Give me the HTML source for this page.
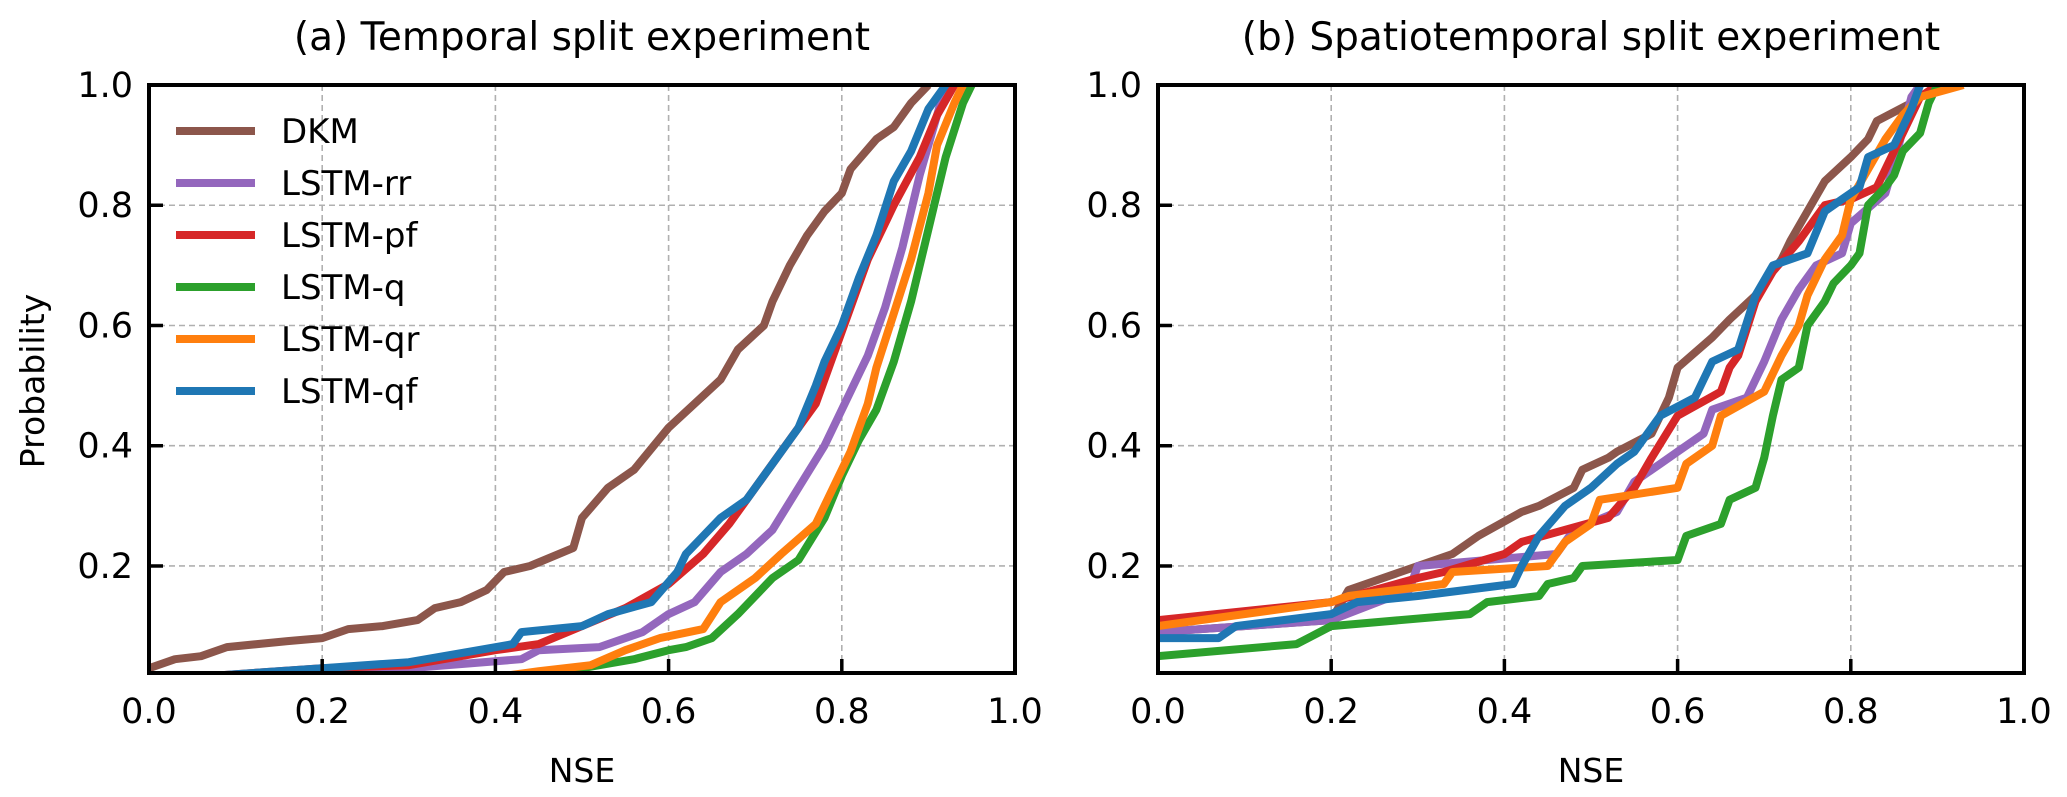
<!DOCTYPE html>
<html><head><meta charset="utf-8">
<style>
html,body{margin:0;padding:0;background:#fff;}
svg{display:block;font-family:"DejaVu Sans","Liberation Sans",sans-serif;}
</style></head>
<body>
<svg id="chart" width="2067" height="797" viewBox="0 0 2067 797" xmlns="http://www.w3.org/2000/svg">
<defs>
<clipPath id="clipA"><rect x="149" y="85" width="866" height="588"/></clipPath>
<clipPath id="clipB"><rect x="1158" y="85" width="866" height="588"/></clipPath>
</defs>
<g id="root"></g>
</svg>
<script>
const seriesNames = ["DKM","LSTM-rr","LSTM-pf","LSTM-q","LSTM-qr","LSTM-qf"];
const seriesColors = ["#8c564b","#9467bd","#d62728","#2ca02c","#ff7f0e","#1f77b4"];
const xTicks = [0.0,0.2,0.4,0.6,0.8,1.0];
const yTicks = [0.2,0.4,0.6,0.8,1.0];
const titles = ["(a) Temporal split experiment","(b) Spatiotemporal split experiment"];

// Panel A: [nse, prob] pairs
const aDKM = [[0,0.03],[0.03,0.045],[0.06,0.05],[0.09,0.065],[0.16,0.075],[0.2,0.08],[0.23,0.095],[0.27,0.1],[0.31,0.11],[0.33,0.13],[0.36,0.14],[0.39,0.16],[0.41,0.19],[0.44,0.2],[0.49,0.23],[0.5,0.28],[0.53,0.33],[0.56,0.36],[0.6,0.43],[0.63,0.47],[0.66,0.51],[0.68,0.56],[0.71,0.6],[0.72,0.64],[0.74,0.7],[0.76,0.75],[0.78,0.79],[0.8,0.82],[0.81,0.86],[0.84,0.91],[0.86,0.93],[0.88,0.97],[0.9,1.0]];
const aRR = [[0,0.015],[0.15,0.015],[0.3,0.03],[0.43,0.045],[0.45,0.06],[0.52,0.065],[0.57,0.09],[0.6,0.12],[0.63,0.14],[0.66,0.19],[0.69,0.22],[0.72,0.26],[0.75,0.33],[0.78,0.4],[0.81,0.49],[0.83,0.55],[0.85,0.63],[0.87,0.73],[0.89,0.85],[0.91,0.95],[0.92,1.0]];
const aPF = [[0,0.01],[0.1,0.02],[0.2,0.03],[0.3,0.035],[0.4,0.06],[0.45,0.07],[0.5,0.1],[0.55,0.13],[0.6,0.17],[0.64,0.22],[0.67,0.27],[0.7,0.33],[0.74,0.41],[0.77,0.47],[0.79,0.55],[0.81,0.63],[0.83,0.71],[0.86,0.8],[0.89,0.88],[0.91,0.95],[0.93,1.0]];
const aQ = [[0.38,0.0],[0.4,0.01],[0.5,0.03],[0.56,0.045],[0.6,0.06],[0.62,0.065],[0.65,0.08],[0.68,0.12],[0.72,0.18],[0.75,0.21],[0.78,0.28],[0.8,0.35],[0.82,0.41],[0.84,0.46],[0.86,0.54],[0.88,0.64],[0.9,0.76],[0.92,0.88],[0.94,0.97],[0.95,1.0]];
const aQR = [[0,0.01],[0.2,0.01],[0.4,0.015],[0.45,0.025],[0.51,0.035],[0.55,0.06],[0.59,0.08],[0.64,0.095],[0.66,0.14],[0.7,0.18],[0.73,0.22],[0.77,0.27],[0.79,0.33],[0.81,0.39],[0.83,0.47],[0.84,0.53],[0.86,0.62],[0.88,0.71],[0.9,0.82],[0.91,0.9],[0.93,0.97],[0.94,1.0]];
const aQF = [[0,0.01],[0.1,0.02],[0.2,0.03],[0.3,0.04],[0.38,0.06],[0.42,0.07],[0.43,0.09],[0.5,0.1],[0.53,0.12],[0.58,0.14],[0.61,0.19],[0.62,0.22],[0.66,0.28],[0.69,0.31],[0.72,0.37],[0.75,0.43],[0.77,0.5],[0.78,0.54],[0.8,0.6],[0.82,0.68],[0.84,0.75],[0.86,0.84],[0.88,0.89],[0.9,0.96],[0.92,1.0]];

// Panel B
const bDKM = [[0,0.09],[0.2,0.11],[0.22,0.16],[0.3,0.2],[0.34,0.22],[0.37,0.25],[0.42,0.29],[0.44,0.3],[0.48,0.33],[0.49,0.36],[0.52,0.38],[0.53,0.39],[0.57,0.42],[0.59,0.48],[0.6,0.53],[0.64,0.58],[0.66,0.61],[0.69,0.65],[0.7,0.67],[0.72,0.71],[0.73,0.74],[0.75,0.79],[0.77,0.84],[0.8,0.88],[0.82,0.91],[0.83,0.94],[0.87,0.97],[0.88,1.0]];
const bRR = [[0,0.09],[0.2,0.11],[0.29,0.16],[0.3,0.2],[0.46,0.22],[0.48,0.26],[0.53,0.29],[0.55,0.34],[0.58,0.37],[0.6,0.39],[0.63,0.42],[0.64,0.46],[0.68,0.48],[0.7,0.54],[0.72,0.61],[0.74,0.66],[0.76,0.7],[0.79,0.72],[0.8,0.77],[0.84,0.82],[0.85,0.87],[0.87,0.98],[0.88,1.0]];
const bPF = [[0,0.11],[0.2,0.14],[0.3,0.18],[0.33,0.19],[0.4,0.22],[0.42,0.24],[0.47,0.26],[0.52,0.28],[0.55,0.33],[0.57,0.38],[0.6,0.45],[0.65,0.49],[0.66,0.53],[0.67,0.55],[0.69,0.64],[0.71,0.69],[0.74,0.74],[0.77,0.8],[0.8,0.81],[0.83,0.83],[0.84,0.86],[0.86,0.92],[0.88,0.98],[0.9,1.0]];
const bQ = [[0,0.05],[0.16,0.07],[0.2,0.1],[0.36,0.12],[0.38,0.14],[0.44,0.15],[0.45,0.17],[0.48,0.18],[0.49,0.2],[0.6,0.21],[0.61,0.25],[0.65,0.27],[0.66,0.31],[0.69,0.33],[0.7,0.38],[0.71,0.45],[0.72,0.51],[0.74,0.53],[0.75,0.6],[0.77,0.64],[0.78,0.67],[0.8,0.7],[0.81,0.72],[0.82,0.8],[0.84,0.83],[0.85,0.85],[0.86,0.89],[0.88,0.92],[0.89,0.97],[0.9,1.0]];
const bQR = [[0,0.1],[0.2,0.14],[0.22,0.15],[0.33,0.17],[0.34,0.19],[0.45,0.2],[0.47,0.24],[0.5,0.27],[0.51,0.31],[0.6,0.33],[0.61,0.37],[0.64,0.4],[0.65,0.45],[0.7,0.49],[0.72,0.55],[0.74,0.6],[0.75,0.65],[0.77,0.71],[0.79,0.75],[0.8,0.81],[0.82,0.86],[0.84,0.91],[0.86,0.95],[0.88,0.98],[0.93,1.0]];
const bQF = [[0,0.08],[0.07,0.08],[0.09,0.1],[0.2,0.12],[0.23,0.14],[0.3,0.15],[0.41,0.17],[0.42,0.2],[0.44,0.25],[0.47,0.3],[0.5,0.33],[0.53,0.37],[0.55,0.39],[0.56,0.41],[0.58,0.45],[0.62,0.48],[0.64,0.54],[0.67,0.56],[0.69,0.65],[0.71,0.7],[0.75,0.72],[0.77,0.79],[0.79,0.81],[0.81,0.83],[0.82,0.88],[0.85,0.9],[0.87,0.96],[0.88,1.0]];

const panelA = [aDKM,aRR,aPF,aQ,aQR,aQF];
const panelB = [bDKM,bRR,bPF,bQ,bQR,bQF];

const NS = "http://www.w3.org/2000/svg";
const root = document.getElementById("root");
function mk(tag, attrs, parent){const e=document.createElementNS(NS,tag);for(const k in attrs)e.setAttribute(k,attrs[k]);(parent||root).appendChild(e);return e;}

const plotTop=85, plotBot=673, yMin=0.022, yMax=1.0;
function yScale(v){return plotBot-(v-yMin)/(yMax-yMin)*(plotBot-plotTop);}

function drawPanel(left,right,series,title,clipId,pid,showY,showLegend){
  const xScale=v=>left+v*(right-left);
  const g=mk("g",{});
  
  
  xTicks.forEach(t=>{
    if(t>0&&t<1){const l=mk("line",{x1:xScale(t),x2:xScale(t),y1:plotTop,y2:plotBot,stroke:"#b0b0b0","stroke-width":1.6,"stroke-dasharray":"6,4"},g);
    
    }
  });
  yTicks.forEach(t=>{
    if(t<1){const l=mk("line",{x1:left,x2:right,y1:yScale(t),y2:yScale(t),stroke:"#b0b0b0","stroke-width":1.6,"stroke-dasharray":"6,4"},g);
    
    }
  });
  const sg=mk("g",{"clip-path":"url(#"+clipId+")"},g);
  series.forEach((pts,i)=>{
    const d=pts.map((p,j)=>(j?"L":"M")+xScale(p[0]).toFixed(1)+","+yScale(p[1]).toFixed(1)).join(" ");
    const p=mk("path",{d:d,fill:"none",stroke:seriesColors[i],"stroke-width":8,"stroke-linejoin":"round"},sg);
    
    
  });
  xTicks.forEach(t=>{
    const l=mk("line",{x1:xScale(t),x2:xScale(t),y1:plotBot,y2:plotBot-14,stroke:"#000","stroke-width":3.5},g);
    
    
    const tx=mk("text",{x:xScale(t),y:723,"font-size":35,"text-anchor":"middle",fill:"#000"},g);
    tx.textContent=t.toFixed(1);
    
    
  });
  yTicks.forEach(t=>{
    const l=mk("line",{x1:left,x2:left+14,y1:yScale(t),y2:yScale(t),stroke:"#000","stroke-width":3.5},g);
    
    
    const tx=mk("text",{x:left-16,y:yScale(t)+12,"font-size":35,"text-anchor":"end",fill:"#000"},g);
    tx.textContent=t.toFixed(1);
    
    
  });
  const fr=mk("rect",{x:left,y:plotTop,width:right-left,height:plotBot-plotTop,fill:"none",stroke:"#000","stroke-width":4},g);
  
  
  const ti=mk("text",{x:(left+right)/2,y:50,"font-size":39,"text-anchor":"middle",fill:"#000"},g);
  ti.textContent=title;
  
  
  const xl=mk("text",{x:(left+right)/2,y:782,"font-size":33,"text-anchor":"middle",fill:"#000"},g);
  xl.textContent="NSE";
  
  
  if(showY){
    const yl=mk("text",{x:0,y:0,"font-size":33,"text-anchor":"middle",fill:"#000",transform:"translate(44,381) rotate(-90)"},g);
    yl.textContent="Probability";
    
    
  }
  if(showLegend){
    const lg=mk("g",{},g);
    
    
    seriesNames.forEach((n,i)=>{
      const y=131+i*52;
      const e=mk("g",{},lg);
      
      
      mk("line",{x1:176,x2:255,y1:y,y2:y,stroke:seriesColors[i],"stroke-width":8},e);
      const t=mk("text",{x:281,y:y+12,"font-size":34,fill:"#000"},e);
      t.textContent=n;
    });
  }
}
drawPanel(149,1015,panelA,titles[0],"clipA","panel-a",true,true);
drawPanel(1158,2024,panelB,titles[1],"clipB","panel-b",false,false);
</script>
</body></html>
